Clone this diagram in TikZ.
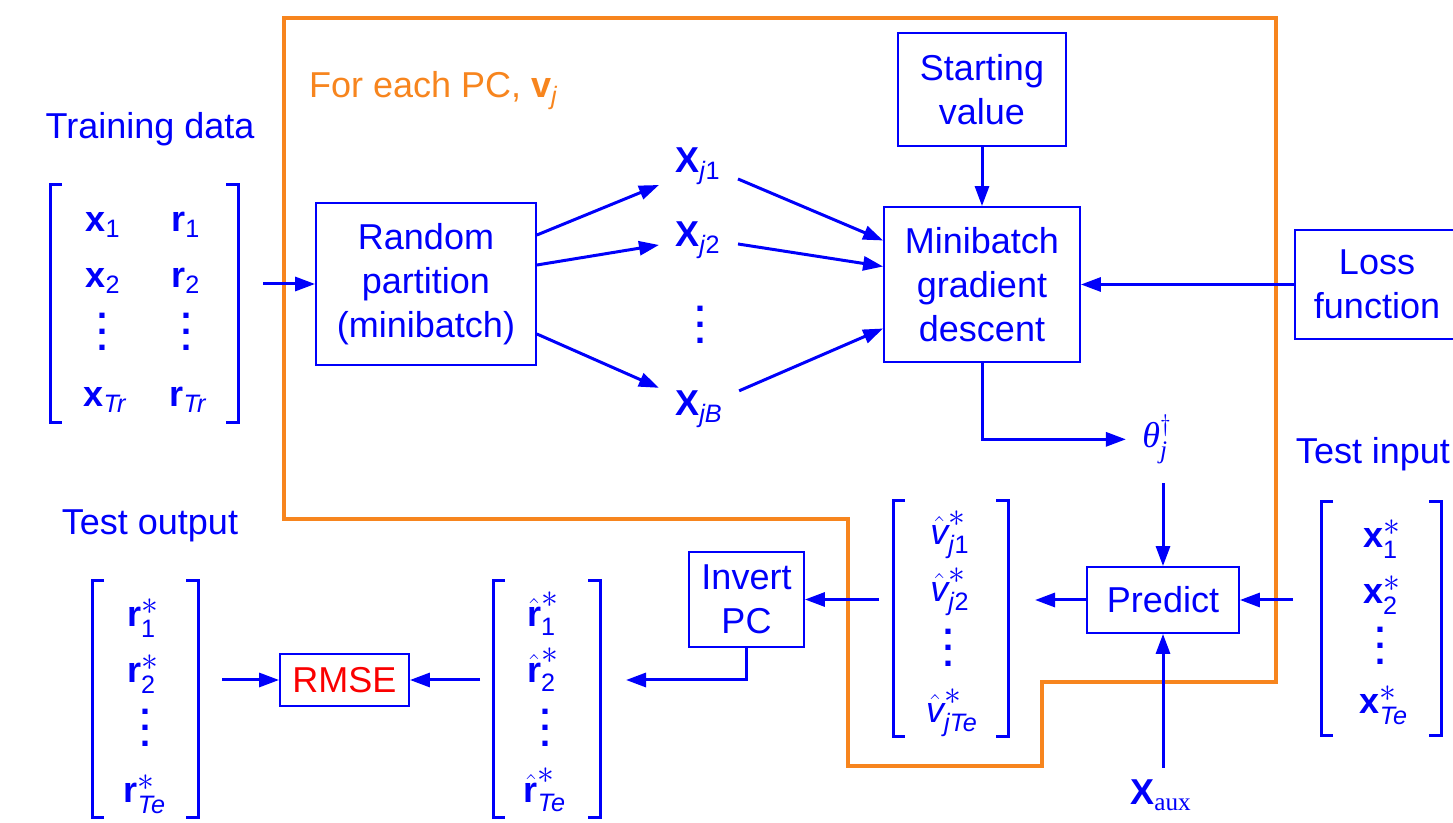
\documentclass[tikz,border=0pt]{standalone}
\usepackage{amsmath}
\usepackage{amssymb}
\usepackage{fontspec}
\setmainfont{Liberation Sans}
\newfontfamily\pcserif{Liberation Serif}
\usetikzlibrary{arrows.meta}

\definecolor{pcblue}{RGB}{0,0,250}
\definecolor{pcorange}{RGB}{247,133,30}
\definecolor{pcred}{RGB}{250,0,0}

\newcommand{\pcstar}{\scalebox{1.4}{$\scriptstyle\ast$}}
\newcommand{\tallvdots}{\vbox{\baselineskip=8pt\lineskiplimit=0pt\hbox{\textbf{.}}\hbox{\textbf{.}}\hbox{\textbf{.}}}}
\newcommand{\matbrackets}[1]{%
\draw[brk] ([xshift=6pt]#1.north west) -- (#1.north west) -- (#1.south west) -- ([xshift=6pt]#1.south west);
\draw[brk] ([xshift=-6pt]#1.north east) -- (#1.north east) -- (#1.south east) -- ([xshift=-6pt]#1.south east);}

\tikzset{
every node/.style={font=\fontsize{18}{22}\selectfont, text=pcblue},
box/.style={draw=pcblue, line width=0.9pt, align=center, inner sep=2pt},
mat/.style={inner sep=0pt, outer sep=0pt},
entry/.style={anchor=base, inner sep=0pt},
arr/.style={draw=pcblue, line width=1.5pt, -{Triangle[length=10pt,width=7pt]}},
brk/.style={draw=pcblue, line width=1.5pt, line join=miter},
pcloop/.style={draw=pcorange, line width=1.6pt}
}

\begin{document}
\begin{tikzpicture}[x=0.5pt,y=-0.5pt]
\useasboundingbox (0,0) rectangle (1453,823);
\draw[pcloop] (284,18) -- (1276,18) -- (1276,682) -- (1042,682) -- (1042,766) -- (848,766) -- (848,519) -- (284,519) -- cycle;
\node[anchor=base west, text=pcorange] (pclbl) at (302,98) {For each PC, $\textbf{v}_{\textit{j}}$};

\node[anchor=base] (trlbl) at (150,139) {Training data};
\node[mat, minimum width=94pt, minimum height=119pt] (trmat) at (144,304) {};
\matbrackets{trmat}
\node[entry] (tr-x1) at (103,232) {$\textbf{x}_{\text{1}}$};
\node[entry] (tr-r1) at (186,232) {$\textbf{r}_{\text{1}}$};
\node[entry] (tr-x2) at (103,288) {$\textbf{x}_{\text{2}}$};
\node[entry] (tr-r2) at (186,288) {$\textbf{r}_{\text{2}}$};
\node[inner sep=0pt] (tr-xd) at (103,332) {\tallvdots};
\node[inner sep=0pt] (tr-rd) at (186,332) {\tallvdots};
\node[entry] (tr-xT) at (105,407) {$\textbf{x}_{\textit{Tr}}$};
\node[entry] (tr-rT) at (188,407) {$\textbf{r}_{\textit{Tr}}$};

\node[box, minimum width=110pt, minimum height=81pt] (rand) at (426,284) {Random\\partition\\(minibatch)};
\node[entry] (xj1) at (698,173) {$\textbf{X}_{\text{\textit{j}1}}$};
\node[entry] (xj2) at (698,247) {$\textbf{X}_{\text{\textit{j}2}}$};
\node[inner sep=0pt] (xjd) at (700,325) {\tallvdots};
\node[entry] (xjB) at (699,416) {$\textbf{X}_{\textit{jB}}$};

\node[box, minimum width=84pt, minimum height=56.5pt] (start) at (982,89.5) {Starting\\value};
\node[box, minimum width=98pt, minimum height=77.5pt] (gd) at (982,284.5) {Minibatch\\gradient\\descent};
\node[box, minimum width=82pt, minimum height=54.5pt] (loss) at (1377,284.5) {Loss\\function};
\node[entry] (theta) at (1157,448) {$\text{\pcserif\itshape θ}^{\dagger}_{\text{\pcserif\itshape j}}$};

\node[anchor=base] (inlbl) at (1373,464) {Test input};
\node[mat, minimum width=60pt, minimum height=117pt] (inmat) at (1381,619) {};
\matbrackets{inmat}
\node[entry] (in-x1) at (1382,548) {$\textbf{x}^{\pcstar}_{\text{1}}$};
\node[entry] (in-x2) at (1382,604) {$\textbf{x}^{\pcstar}_{\text{2}}$};
\node[inner sep=0pt] (in-xd) at (1380,646) {\tallvdots};
\node[entry] (in-xT) at (1384,714) {$\textbf{x}^{\pcstar}_{\textit{Te}}$};

\node[box, minimum width=76pt, minimum height=33pt] (predict) at (1163,600) {Predict};
\node[entry] (xaux) at (1161,805) {$\textbf{X}_{\text{\pcserif aux}}$};

\node[mat, minimum width=57.5pt, minimum height=118pt] (vhatmat) at (950.5,619) {};
\matbrackets{vhatmat}
\node[entry] (vh-1) at (950,545) {$\hat{\textit{v}}^{\pcstar}_{\text{\textit{j}1}}$};
\node[entry] (vh-2) at (950,602) {$\hat{\textit{v}}^{\pcstar}_{\text{\textit{j}2}}$};
\node[inner sep=0pt] (vh-d) at (948,648) {\tallvdots};
\node[entry] (vh-T) at (952,723) {$\hat{\textit{v}}^{\pcstar}_{\textit{jTe}}$};

\node[box, minimum width=57.5pt, minimum height=47.5pt] (invert) at (746.5,599.5) {Invert\\PC};

\node[mat, minimum width=53.5pt, minimum height=118.5pt] (rhatmat) at (546.5,699.5) {};
\matbrackets{rhatmat}
\node[entry] (rh-1) at (543,627) {$\hat{\textbf{r}}^{\pcstar}_{\text{1}}$};
\node[entry] (rh-2) at (543,683) {$\hat{\textbf{r}}^{\pcstar}_{\text{2}}$};
\node[inner sep=0pt] (rh-d) at (545,728) {\tallvdots};
\node[entry] (rh-T) at (545,803) {$\hat{\textbf{r}}^{\pcstar}_{\textit{Te}}$};

\node[box, text=pcred, minimum width=64.5pt, minimum height=26pt] (rmse) at (344.5,680) {RMSE};

\node[anchor=base] (outlbl) at (150,535) {Test output};
\node[mat, minimum width=53pt, minimum height=118.5pt] (outmat) at (145,699.5) {};
\matbrackets{outmat}
\node[entry] (out-1) at (143,627) {$\textbf{r}^{\pcstar}_{\text{1}}$};
\node[entry] (out-2) at (143,683) {$\textbf{r}^{\pcstar}_{\text{2}}$};
\node[inner sep=0pt] (out-d) at (145,728) {\tallvdots};
\node[entry] (out-T) at (145,803) {$\textbf{r}^{\pcstar}_{\textit{Te}}$};

\draw[arr, shorten <=12.5pt] (trmat.east |- rand.west) -- (rand.west);
\draw[arr] ([yshift=24.5pt]rand.east) -- ([xshift=-8pt]xj1.south west);
\draw[arr] ([yshift=9.5pt]rand.east) -- ([xshift=-8pt,yshift=7pt]xj2.south west);
\draw[arr] ([yshift=-25pt]rand.east) -- ([xshift=-8pt,yshift=1.5pt]xjB.north west);
\draw[arr] ([xshift=8.5pt,yshift=3pt]xj1.south east) -- ([yshift=22pt]gd.west);
\draw[arr] ([xshift=8.5pt,yshift=7.5pt]xj2.south east) -- ([yshift=9pt]gd.west);
\draw[arr] ([xshift=8pt]xjB.north east) -- ([yshift=-22pt]gd.west);
\draw[arr] (start.south) -- (gd.north);
\draw[arr] (loss.west) -- (gd.east);
\draw[arr, shorten >=8pt] (gd.south) |- (theta.west);
\draw[arr, shorten <=9.5pt] (theta.south -| predict.north) -- (predict.north);
\draw[arr, shorten <=6pt] (xaux.north -| predict.south) -- (predict.south);
\draw[arr, shorten <=14pt] (inmat.west |- predict.east) -- (predict.east);
\draw[arr, shorten >=13.5pt] (predict.west) -- (vhatmat.east |- predict.west);
\draw[arr, shorten <=7pt] (vhatmat.west |- invert.east) -- (invert.east);
\draw[arr, shorten >=13pt] (invert.south) |- (rhatmat.east |- rmse.east);
\draw[arr, shorten <=6.5pt] (rhatmat.west |- rmse.east) -- (rmse.east);
\draw[arr, shorten <=12pt] (outmat.east |- rmse.west) -- (rmse.west);
\end{tikzpicture}
\end{document}
